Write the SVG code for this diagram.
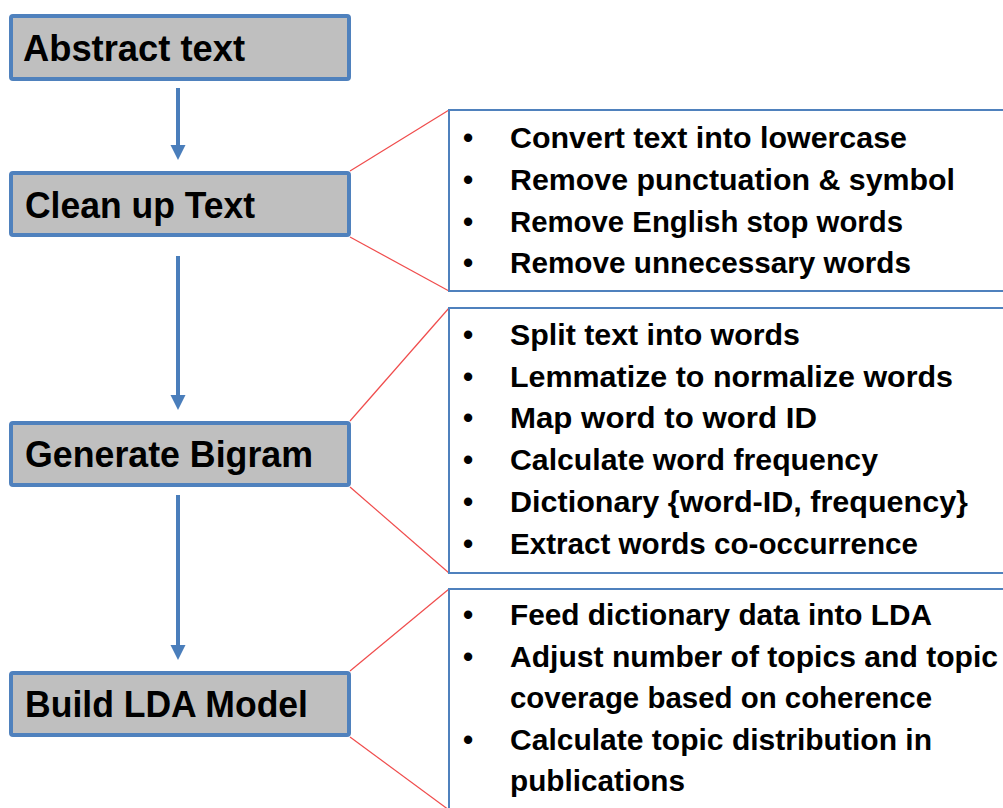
<svg xmlns="http://www.w3.org/2000/svg" width="1003" height="808" viewBox="0 0 1003 808">
<style>
.step rect{fill:#bfbfbf;stroke:#4f81bd;stroke-width:4}
.step text{font-family:"Liberation Sans",Arial,sans-serif;font-weight:bold;font-size:37px;fill:#000}
.detail rect{fill:#fff;stroke:#4f81bd;stroke-width:2}
.detail text{font-family:"Liberation Sans",Arial,sans-serif;font-weight:bold;font-size:29px;fill:#000}
.detail .b{text-anchor:middle}
.flow line{stroke:#4a7ebb;stroke-width:4}
.callout line{stroke:#f04c4c;stroke-width:1.2}
</style>
<defs>
<marker id="ah" markerUnits="userSpaceOnUse" markerWidth="16" markerHeight="16" refX="1" refY="7.5" orient="auto">
<path d="M0,0 L15,7.5 L0,15 z" fill="#4a7ebb"/>
</marker>
</defs>
<rect width="1003" height="808" fill="#fff"/>

<g id="connectors">
<g class="flow">
<line x1="178" y1="88" x2="178" y2="146" marker-end="url(#ah)"/>
<line x1="178" y1="256" x2="178" y2="396" marker-end="url(#ah)"/>
<line x1="178" y1="495" x2="178" y2="646" marker-end="url(#ah)"/>
</g>
<g class="callout">
<line x1="350" y1="171" x2="449" y2="110"/>
<line x1="350" y1="237" x2="449" y2="291"/>
<line x1="350" y1="421" x2="449" y2="308"/>
<line x1="350" y1="487" x2="449" y2="573"/>
<line x1="350" y1="671" x2="449" y2="589"/>
<line x1="350" y1="737" x2="449" y2="810"/>
</g>
</g>

<g id="node-abstract" class="step">
<rect x="11" y="16" width="338" height="63" rx="2"/>
<text x="23" y="61" textLength="222" lengthAdjust="spacingAndGlyphs">Abstract text</text>
</g>
<g id="node-clean" class="step">
<rect x="11" y="173" width="338" height="62" rx="2"/>
<text x="25" y="218" textLength="230" lengthAdjust="spacingAndGlyphs">Clean up Text</text>
</g>
<g id="node-bigram" class="step">
<rect x="11" y="423" width="338" height="62" rx="2"/>
<text x="25" y="467" textLength="288" lengthAdjust="spacingAndGlyphs">Generate Bigram</text>
</g>
<g id="node-lda" class="step">
<rect x="11" y="673" width="338" height="62" rx="2"/>
<text x="25" y="717" textLength="283" lengthAdjust="spacingAndGlyphs">Build LDA Model</text>
</g>

<g id="detail-clean" class="detail">
<rect x="449" y="110" width="570" height="181"/>
<text class="b" x="468" y="148">•</text>
<text x="510" y="148" textLength="397" lengthAdjust="spacingAndGlyphs">Convert text into lowercase</text>
<text class="b" x="468" y="190">•</text>
<text x="510" y="190" textLength="445" lengthAdjust="spacingAndGlyphs">Remove punctuation &amp; symbol</text>
<text class="b" x="468" y="232">•</text>
<text x="510" y="232" textLength="393" lengthAdjust="spacingAndGlyphs">Remove English stop words</text>
<text class="b" x="468" y="273">•</text>
<text x="510" y="273" textLength="401" lengthAdjust="spacingAndGlyphs">Remove unnecessary words</text>
</g>

<g id="detail-bigram" class="detail">
<rect x="449" y="308" width="570" height="265"/>
<text class="b" x="468" y="345">•</text>
<text x="510" y="345" textLength="290" lengthAdjust="spacingAndGlyphs">Split text into words</text>
<text class="b" x="468" y="387">•</text>
<text x="510" y="387" textLength="443" lengthAdjust="spacingAndGlyphs">Lemmatize to normalize words</text>
<text class="b" x="468" y="428">•</text>
<text x="510" y="428" textLength="307" lengthAdjust="spacingAndGlyphs">Map word to word ID</text>
<text class="b" x="468" y="470">•</text>
<text x="510" y="470" textLength="368" lengthAdjust="spacingAndGlyphs">Calculate word frequency</text>
<text class="b" x="468" y="512">•</text>
<text x="510" y="512" textLength="458" lengthAdjust="spacingAndGlyphs">Dictionary {word-ID, frequency}</text>
<text class="b" x="468" y="554">•</text>
<text x="510" y="554" textLength="408" lengthAdjust="spacingAndGlyphs">Extract  words co-occurrence</text>
</g>

<g id="detail-lda" class="detail">
<rect x="449" y="589" width="570" height="240"/>
<text class="b" x="468" y="625">•</text>
<text x="510" y="625" textLength="422" lengthAdjust="spacingAndGlyphs">Feed dictionary data into LDA</text>
<text class="b" x="468" y="667">•</text>
<text x="510" y="667" textLength="488" lengthAdjust="spacingAndGlyphs">Adjust number of topics and topic</text>
<text x="510" y="708" textLength="422" lengthAdjust="spacingAndGlyphs">coverage based on coherence</text>
<text class="b" x="468" y="750">•</text>
<text x="510" y="750" textLength="422" lengthAdjust="spacingAndGlyphs">Calculate topic distribution in</text>
<text x="510" y="791" textLength="175" lengthAdjust="spacingAndGlyphs">publications</text>
</g>
</svg>
